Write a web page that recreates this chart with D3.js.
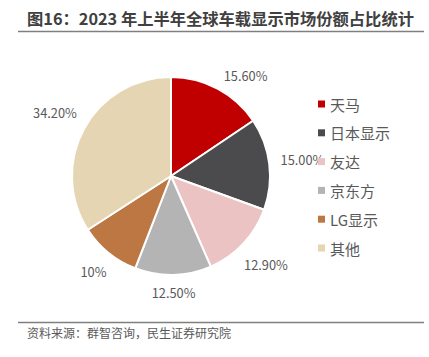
<!DOCTYPE html>
<html><head><meta charset="utf-8">
<script src="https://cdn.jsdelivr.net/npm/d3@7"></script>
<style>
html,body{margin:0;padding:0;background:#fff;}
svg{display:block;}
</style></head>
<body>
<svg id="chart" width="429" height="357"></svg>
<script>
const categories = ["天马", "日本显示", "友达", "京东方", "LG显示", "其他"];
const values = [15.6, 15.0, 12.9, 12.5, 10, 34.2];
const valueLabels = ["15.60%", "15.00%", "12.90%", "12.50%", "10%", "34.20%"];
const colors = ["#C00000", "#4B4B4D", "#EBC3C3", "#B4B4B4", "#BD7743", "#E6D5B3"];
const titleText = "图16：2023 年上半年全球车载显示市场份额占比统计";
const sourceText = "资料来源：群智咨询，民生证券研究院";

const svg = d3.select("#chart");
const font = "'Microsoft YaHei','Noto Sans CJK SC',sans-serif";

// title
svg.append("text").attr("x", 27).attr("y", 25)
  .attr("font-family", font).attr("font-size", 16.3).attr("font-weight", "bold")
  .attr("fill", "#404040").text(titleText);
svg.append("line").attr("x1", 18).attr("x2", 424).attr("y1", 31.5).attr("y2", 31.5)
  .attr("stroke", "#7F7F7F").attr("stroke-width", 1.5);

// source
svg.append("line").attr("x1", 18).attr("x2", 424).attr("y1", 322.5).attr("y2", 322.5)
  .attr("stroke", "#7F7F7F").attr("stroke-width", 1.5);
svg.append("text").attr("x", 27).attr("y", 338)
  .attr("font-family", font).attr("font-size", 12)
  .attr("fill", "#595959").text(sourceText);

// pie
const cx = 171, cy = 176, r = 99;
const plotTop = 69;
const pie = d3.pie().sort(null).value(d => d)(values);
const arc = d3.arc().innerRadius(0).outerRadius(r);
const g = svg.append("g").attr("transform", `translate(${cx},${cy})`);
g.selectAll("path").data(pie).join("path")
  .attr("d", arc).attr("fill", (d, i) => colors[i])
  .attr("stroke", "#fff").attr("stroke-width", 2).attr("stroke-linejoin", "round");

// labels (outside end; kept inside plot area)
const lab = g.selectAll("text.lab").data(pie).join("text").attr("class", "lab")
  .attr("font-family", font).attr("font-size", 12.8).attr("fill", "#595959")
  .attr("text-anchor", "middle").attr("dominant-baseline", "central")
  .text((d, i) => valueLabels[i]);
lab.each(function(d) {
  const w = this.getComputedTextLength(), h = 12;
  const a = (d.startAngle + d.endAngle) / 2;
  const ext = Math.abs(w / 2 * Math.sin(a)) + Math.abs(h / 2 * Math.cos(a));
  const dist = r + 11 + ext;
  let x = dist * Math.sin(a), y = -dist * Math.cos(a);
  const minY = plotTop - cy + h / 2;
  if (y < minY) {
    y = minY;
    x = Math.sign(x) * Math.sqrt(dist * dist - y * y);
  }
  d3.select(this).attr("x", x).attr("y", y);
});

// legend
const legend = svg.append("g").attr("transform", "translate(318,104)");
const li = legend.selectAll("g").data(categories).join("g")
  .attr("transform", (d, i) => `translate(0,${i * 28.8})`);
li.append("rect").attr("x", 0).attr("y", -3.5).attr("width", 7).attr("height", 7)
  .attr("fill", (d, i) => colors[i]);
li.append("text").attr("x", 12).attr("y", 0).attr("dominant-baseline", "central")
  .attr("font-family", font).attr("font-size", 15).attr("fill", "#595959").text(d => d);
</script>
</body></html>
